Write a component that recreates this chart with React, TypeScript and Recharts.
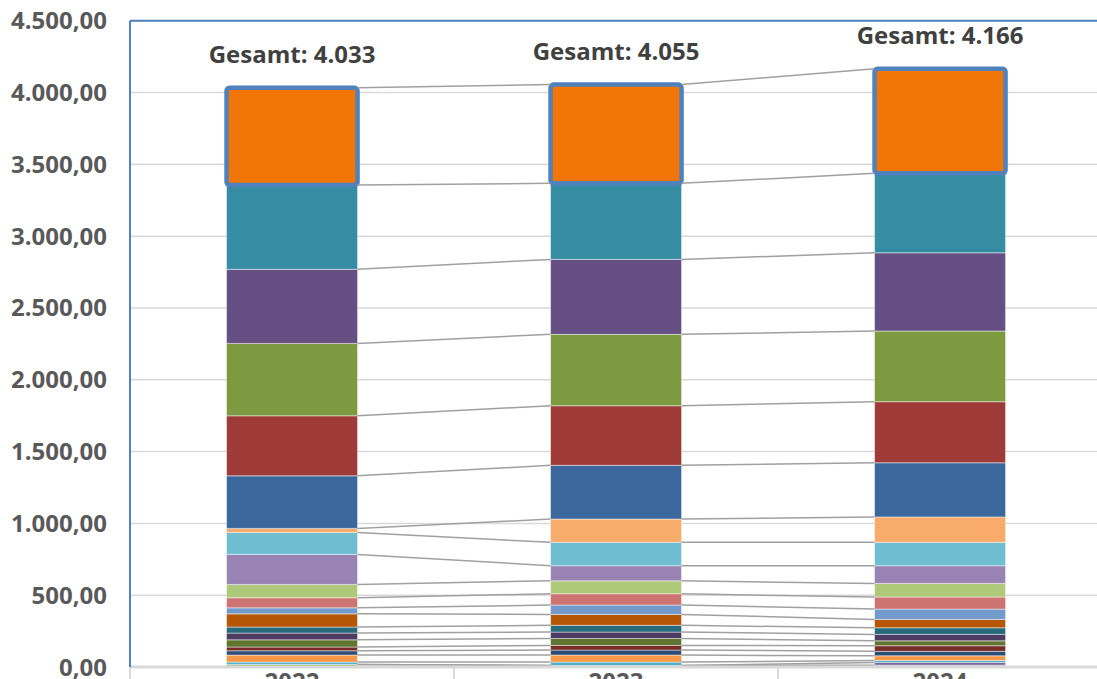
import React from "react";
import { BarChart, Bar, XAxis, YAxis, CartesianGrid, ReferenceLine, LabelList } from "recharts";

const categories = ["2022", "2023", "2024"];

// segment values per year, stacked bottom -> top
const values2022 = [18, 0, 16, 49, 30, 26, 50, 47, 42, 92, 42, 70, 93, 209, 153, 28, 366, 418, 504, 516, 587, 677];
const values2023 = [11, 0, 23, 49, 35, 32, 49, 44, 47, 76, 65, 79, 90, 105, 163, 162, 374, 415, 497, 522, 530, 687];
const values2024 = [13, 19, 14, 32, 31, 39, 34, 45, 46, 58, 72, 84, 95, 123, 163, 177, 377, 425, 492, 545, 553, 729];

const seriesColors = [
  "#9bbb59", "#8064a2", "#4bacc6", "#f79646", "#2c4d75", "#772c2a", "#5f7530",
  "#4d3b62", "#276a7c", "#b65708", "#729aca", "#cd7371", "#afc97a", "#9983b5",
  "#6fbdd1", "#f9ab6b", "#3a679c", "#9e3b39", "#7e9a41", "#664f83", "#358ca3",
  "#f27507",
];

const yTicks = [0, 500, 1000, 1500, 2000, 2500, 3000, 3500, 4000, 4500];

const GAP = 0.298;
const FONT = "'Open Sans', 'DejaVu Sans', sans-serif";

const yearValues = [values2022, values2023, values2024];
const seriesKeys = seriesColors.map((_, i) => `s${i + 1}`);

const data = categories.map((year, c) => {
  // slot = centre of the category on the hidden numeric axis
  const row: Record<string, number | string> = { year, slot: c + 0.5 };
  seriesKeys.forEach((k, i) => {
    row[k] = yearValues[c][i];
  });
  return row;
});

const totals = yearValues.map((v) => v.reduce((a, b) => a + b, 0));
const tops = yearValues.map((v) => {
  let s = 0;
  return v.map((x) => (s += x));
});

// excel-style series lines between neighbouring bars
const seriesLines: { x1: number; y1: number; x2: number; y2: number }[] = [];
for (let c = 0; c < categories.length - 1; c++) {
  for (let i = 0; i < seriesKeys.length; i++) {
    seriesLines.push({ x1: c + 1 - GAP, y1: tops[c][i], x2: c + 1 + GAP, y2: tops[c + 1][i] });
  }
}

const fmtThousands = (n: number) => String(Math.round(n)).replace(/\B(?=(\d{3})+(?!\d))/g, ".");
const fmtTick = (n: number) => fmtThousands(n) + ",00";

const tickStyle = { fontFamily: FONT, fontWeight: 700, fontSize: 24, fill: "#595959" };

const TopShape = (props: any) => {
  const { x, y, width, height, fill } = props;
  return (
    <rect x={x} y={y} width={width} height={height} fill={fill} stroke="#4f81bd" strokeWidth={4.5} rx={3} ry={3} />
  );
};

const renderTotal = (props: any) => {
  const { x, y, width, index } = props;
  return (
    <text
      x={Number(x) + Number(width) / 2}
      y={Number(y) - 25}
      textAnchor="middle"
      fontFamily={FONT}
      fontWeight={700}
      fontSize={24}
      fill="#404040"
    >
      {`Gesamt: ${fmtThousands(totals[index])}`}
    </text>
  );
};

export default function App() {
  const last = seriesKeys.length - 1;
  return (
    <div style={{ position: "fixed", left: 0, top: 0, width: 1097, height: 679, overflow: "hidden", background: "#fff" }}>
      <BarChart
        width={1112}
        height={707}
        data={data}
        margin={{ top: 20.7, right: 10, bottom: 0, left: 0 }}
        barCategoryGap={`${GAP * 100}%`}
      >
        <CartesianGrid vertical={false} stroke="#d9d9d9" strokeWidth={1.5} />
        <XAxis
          dataKey="year"
          height={40}
          axisLine={{ stroke: "#d9d9d9", strokeWidth: 3 }}
          tickLine={false}
          tickSize={0}
          tickMargin={6}
          tick={tickStyle}
        />
        <XAxis xAxisId="pos" dataKey="slot" type="number" domain={[0, categories.length]} allowDataOverflow hide />
        <YAxis
          domain={[0, 4500]}
          ticks={yTicks}
          interval={0}
          width={130}
          tickFormatter={fmtTick}
          axisLine={{ stroke: "#4f81bd", strokeWidth: 2 }}
          tickLine={false}
          tickSize={0}
          tickMargin={23}
          tick={tickStyle}
        />
        <ReferenceLine y={4500} stroke="#4f81bd" strokeWidth={2} />
        {seriesKeys.map((k, i) =>
          i === last ? (
            <Bar key={k} dataKey={k} stackId="a" fill={seriesColors[i]} shape={TopShape} isAnimationActive={false}>
              <LabelList dataKey={k} content={renderTotal} />
            </Bar>
          ) : (
            <Bar
              key={k}
              dataKey={k}
              stackId="a"
              fill={seriesColors[i]}
              stroke="#ffffff"
              strokeOpacity={0.45}
              strokeWidth={1}
              isAnimationActive={false}
            />
          )
        )}
        {seriesLines.map((l, i) => (
          <ReferenceLine
            key={`sl-${i}`}
            xAxisId="pos"
            segment={[{ x: l.x1, y: l.y1 }, { x: l.x2, y: l.y2 }]}
            stroke="#a0a0a0"
            strokeWidth={1.5}
          />
        ))}
        {[0, 1, 2, 3].map((c) => (
          <ReferenceLine
            key={`sep-${c}`}
            xAxisId="pos"
            segment={[{ x: c, y: 0 }, { x: c, y: -220 }]}
            ifOverflow="visible"
            stroke="#d9d9d9"
            strokeWidth={2}
          />
        ))}
      </BarChart>
    </div>
  );
}
